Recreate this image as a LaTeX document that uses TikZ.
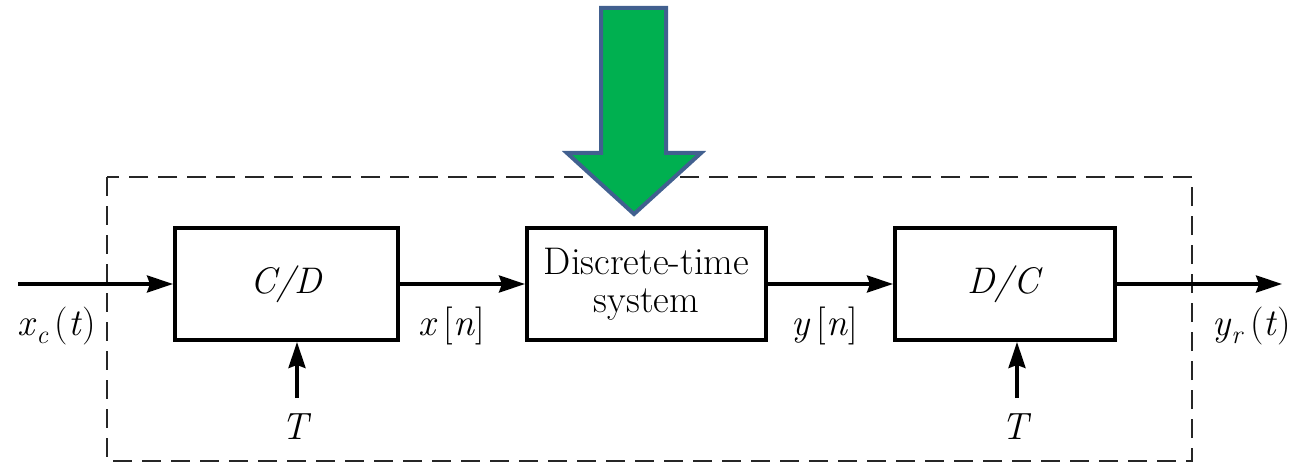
\documentclass[tikz,border=0pt]{standalone}
\usepackage{fontspec}
\usetikzlibrary{arrows.meta}
\definecolor{arrgreen}{HTML}{00B050}
\definecolor{arrblue}{HTML}{41608F}
\newcommand{\subsc}[1]{\raisebox{-8pt}{\fontsize{26}{26}\selectfont\textit{#1}}}
\begin{document}
\begin{tikzpicture}[x=1pt,y=-1pt,
  blk/.style={draw, line width=4pt, minimum height=112pt, inner sep=0pt, align=center,
    font=\fontsize{37}{38}\selectfont},
  sig/.style={line width=3.3pt, -{Stealth[length=26pt,width=17pt,inset=3pt]}},
  lbl/.style={font=\fontsize{38}{38}\selectfont, inner sep=0pt, anchor=base west},
  tlbl/.style={font=\fontsize{38}{38}\selectfont, inner sep=0pt},
  frame/.style={line width=2.5pt, draw=black!85, dash pattern=on 19pt off 10pt}]
\useasboundingbox (0,0) rectangle (1292,465);
% dashed enclosure
\draw[frame] (107,177) rectangle (1192,461);
% blocks
\node[blk, minimum width=223pt] (cd) at (286.5,284) {\textit{C/D}};
\node[blk, minimum width=239pt, font=\fontsize{38.5}{38}\selectfont] (dt) at (646.5,284) {Discrete-time\\system};
\node[blk, minimum width=220pt] (dc) at (1005,284) {\textit{D/C}};
% input / output
\coordinate (in) at (18,284);
\coordinate (out) at (1282,284);
\draw[sig] (in) -- (cd.west);
\draw[sig] (cd.east) -- (dt.west);
\draw[sig] (dt.east) -- (dc.west);
\draw[sig] (dc.east) -- (out);
% sampling period inputs
\node[tlbl] (t1) at (297,427) {\textit{T}};
\node[tlbl] (t2) at (1017,427) {\textit{T}};
\coordinate (t1s) at (297,398);
\coordinate (t2s) at (1017,398);
\draw[sig] (t1s) -- (t1s |- cd.south);
\draw[sig] (t2s) -- (t2s |- dc.south);
% signal labels
\node[lbl] (xc) at (17,335) {\textit{x}\subsc{c}\,(\textit{t})};
\node[lbl] (xn) at (418,335) {\textit{x}\,[\textit{n}]};
\node[lbl] (yn) at (791,335) {\textit{y}\,[\textit{n}]};
\node[lbl] (yr) at (1212,335) {\textit{y}\subsc{r}\,(\textit{t})};
% green highlight arrow
\draw[line width=4pt, draw=arrblue, fill=arrgreen, line join=miter]
  (601,8) -- (666,8) -- (666,153) -- (701,153) -- (634,214) -- (567,153) -- (601,153) -- cycle;
\end{tikzpicture}
\end{document}
